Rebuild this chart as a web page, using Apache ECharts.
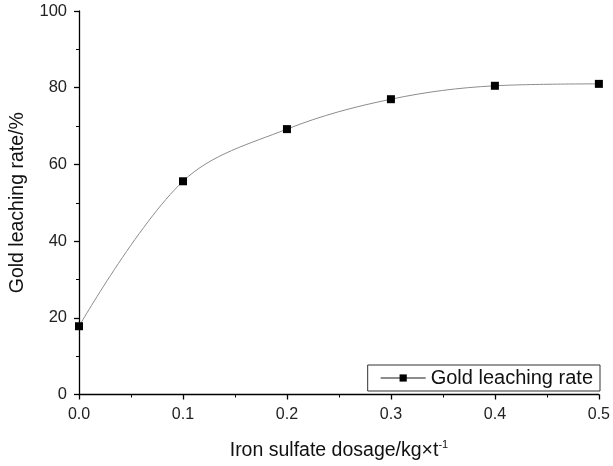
<!DOCTYPE html>
<html lang="en">
<head>
    <meta charset="UTF-8">
    <title>Gold leaching rate vs iron sulfate dosage</title>
    <style>
        html, body {
            margin: 0;
            background: #fff;
        }

        #chart {
            width: 613px;
            height: 466px;
        }
    </style>
</head>
<body>
    <div id="chart"></div>

    <script src="https://cdn.jsdelivr.net/npm/echarts@6/dist/echarts.min.js"></script>
    <script>
        // dosage of iron sulfate (kg/t)
        var dosage = [0, 0.1, 0.2, 0.3, 0.4, 0.5];
        // gold leaching rate (%)
        var leachRate = [17.8, 55.6, 69.2, 77.0, 80.5, 81.0];
        var seriesName = 'Gold leaching rate';

        var font = 'Arial, "Liberation Sans", sans-serif';
        var myChart = echarts.init(document.getElementById('chart'));

        var points = dosage.map(function(d, i) {
            return [d, leachRate[i]];
        });

        var axisCommon = {
            axisLine: { show: true, lineStyle: { color: '#000', width: 1.3 } },
            axisTick: { show: true, inside: false, length: 5, lineStyle: { color: '#000', width: 1.3 } },
            minorTick: { show: true, splitNumber: 2, length: 3, lineStyle: { color: '#000', width: 1 } },
            splitLine: { show: false }
        };

        myChart.setOption({
            animation: false,
            grid: {
                left: 79,
                right: 13,
                top: 11,
                bottom: 71
            },
            legend: {
                data: [seriesName],
                right: 13,
                bottom: 75,
                orient: 'horizontal',
                borderColor: '#333',
                borderWidth: 1,
                borderRadius: 0,
                padding: [3, 7, 3, 12],
                itemWidth: 45,
                itemHeight: 9,
                itemGap: 5,
                textStyle: { color: '#111', fontSize: 20, fontFamily: font }
            },
            xAxis: Object.assign({}, axisCommon, {
                type: 'value',
                min: 0,
                max: 0.5,
                interval: 0.1,
                name: 'Iron sulfate dosage/kg×t{sup|-1}',
                nameLocation: 'middle',
                nameGap: 45,
                nameTextStyle: {
                    color: '#111',
                    fontSize: 19.5,
                    fontFamily: font,
                    rich: {
                        sup: { fontSize: 11, verticalAlign: 'top', padding: [0, 0, 12, 0], fontFamily: font, color: '#111' }
                    }
                },
                axisLabel: {
                    color: '#222',
                    fontSize: 16,
                    fontFamily: font,
                    margin: 12,
                    formatter: function(v) { return v.toFixed(1); }
                }
            }),
            yAxis: Object.assign({}, axisCommon, {
                type: 'value',
                min: 0,
                max: 100,
                interval: 20,
                name: 'Gold leaching rate/%',
                nameLocation: 'middle',
                nameGap: 51,
                nameTextStyle: { color: '#111', fontSize: 19.5, fontFamily: font },
                axisLabel: { color: '#222', fontSize: 16.5, fontFamily: font, margin: 12 }
            }),
            series: [{
                name: seriesName,
                type: 'line',
                data: points,
                smooth: 0.35,
                symbol: 'rect',
                symbolSize: 8,
                showAllSymbol: true,
                clip: false,
                itemStyle: { color: '#000' },
                lineStyle: { color: '#8c8c8c', width: 1 }
            }]
        });
    </script>
</body>
</html>
